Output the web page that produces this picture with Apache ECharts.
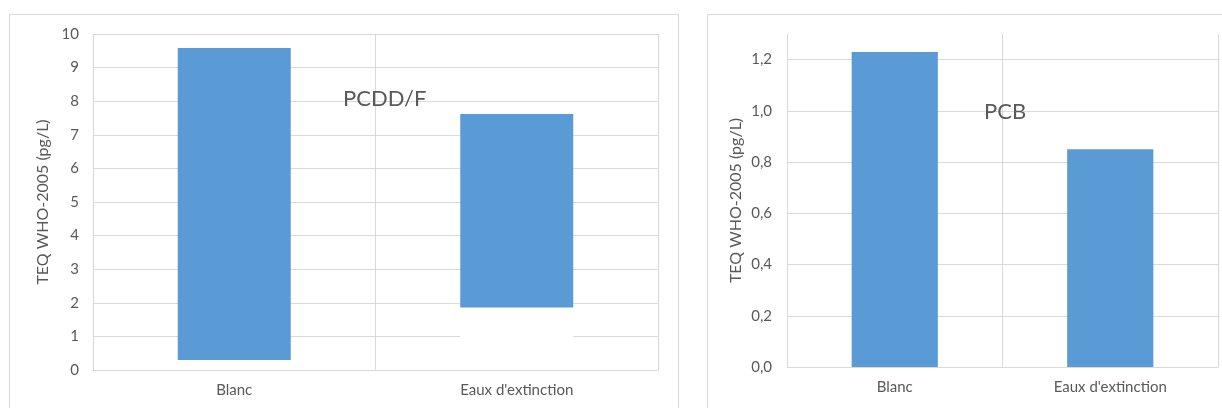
<!DOCTYPE html>
<html><head><meta charset="utf-8">
<script src="https://cdn.jsdelivr.net/npm/echarts@6/dist/echarts.min.js"></script>
<style>html,body{margin:0;padding:0;background:#fff}#c{width:1222px;height:408px}</style>
</head><body><div id="c"></div>
<script>
const categories = ['Blanc', "Eaux d'extinction"];
// PCDD/F floating bars: lower and upper values
const pcddLow = [0.3, 1.86];
const pcddHigh = [9.58, 7.62];
// PCB values
const pcbValues = [1.23, 0.85];
const yAxisName = 'TEQ WHO-2005 (pg/L)';
const titles = ['PCDD/F', 'PCB'];

const FONT = 'Lato';
const TXT = '#595959';
const GRID = '#d9d9d9';
const BLUE = '#5b9bd5';

const chart = echarts.init(document.getElementById('c'), null, {renderer: 'canvas'});
const catAxis = (gi) => ({
  type: 'category', gridIndex: gi, data: categories,
  axisLine: {lineStyle: {color: GRID}}, axisTick: {show: false},
  axisLabel: {color: TXT, fontFamily: FONT, fontSize: 15, margin: 13},
  splitLine: {show: true, lineStyle: {color: GRID}}
});
chart.setOption({
  animation: false,
  graphic: [
    {type: 'rect', shape: {x: 9.5, y: 14.5, width: 669, height: 420}, style: {fill: 'none', stroke: GRID, lineWidth: 1}, z: -10},
    {type: 'rect', shape: {x: 707.5, y: 14.5, width: 540, height: 420}, style: {fill: 'none', stroke: GRID, lineWidth: 1}, z: -10}
  ],
  title: [
    {text: titles[0], left: 338, top: 83, textStyle: {color: TXT, fontFamily: FONT, fontSize: 22, fontWeight: 'normal'}},
    {text: titles[1], left: 979, top: 96, textStyle: {color: TXT, fontFamily: FONT, fontSize: 22, fontWeight: 'normal'}}
  ],
  grid: [
    {left: 93, top: 34, width: 565, height: 336},
    {left: 787, top: 34, width: 431, height: 333}
  ],
  xAxis: [catAxis(0), catAxis(1)],
  yAxis: [
    {type: 'value', gridIndex: 0, min: 0, max: 10, interval: 1,
     name: yAxisName, nameLocation: 'middle', nameGap: 42, nameRotate: 90,
     nameTextStyle: {color: TXT, fontFamily: FONT, fontSize: 16},
     axisLine: {show: false}, axisTick: {show: false},
     axisLabel: {color: TXT, fontFamily: FONT, fontSize: 15, margin: 14},
     splitLine: {lineStyle: {color: GRID}}},
    {type: 'value', gridIndex: 1, min: 0, max: 1.3, interval: 0.2,
     name: yAxisName, nameLocation: 'middle', nameGap: 43, nameRotate: 90,
     nameTextStyle: {color: TXT, fontFamily: FONT, fontSize: 16},
     axisLine: {show: false}, axisTick: {show: false},
     axisLabel: {color: TXT, fontFamily: FONT, fontSize: 15, margin: 15, showMaxLabel: false,
       formatter: v => v.toFixed(1).replace('.', ',')},
     splitLine: {showMaxLine: false, lineStyle: {color: GRID}}}
  ],
  series: [
    {type: 'bar', xAxisIndex: 0, yAxisIndex: 0, stack: 'a', data: pcddLow, barWidth: '40%',
     itemStyle: {color: '#ffffff'}, silent: true},
    {type: 'bar', xAxisIndex: 0, yAxisIndex: 0, stack: 'a', barWidth: '40%',
     data: pcddHigh.map((h, i) => +(h - pcddLow[i]).toFixed(3)), itemStyle: {color: BLUE}},
    {type: 'bar', xAxisIndex: 1, yAxisIndex: 1, data: pcbValues, barWidth: '40%', itemStyle: {color: BLUE}}
  ]
});
</script></body></html>
